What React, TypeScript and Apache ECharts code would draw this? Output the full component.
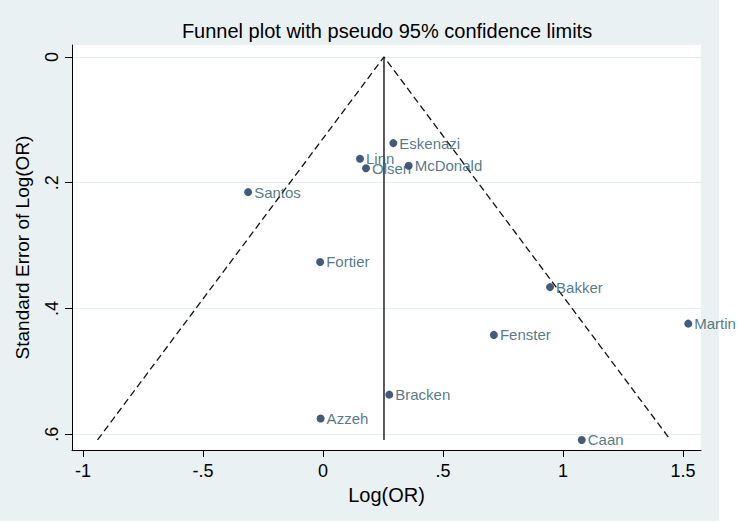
import React, { useEffect, useRef } from "react";
import * as echarts from "echarts";

// ---- Data ----
const studyNames = ["Eskenazi", "Linn", "Olsen", "McDonald", "Santos", "Fortier", "Bakker", "Martin", "Fenster", "Bracken", "Azzeh", "Caan"];
const logOR = [0.293, 0.154, 0.179, 0.357, -0.312, -0.012, 0.946, 1.522, 0.712, 0.276, -0.01, 1.078];
const seLogOR = [0.137, 0.162, 0.177, 0.173, 0.215, 0.326, 0.366, 0.424, 0.442, 0.537, 0.575, 0.609];
const pooledLogOR = 0.254;
const maxSE = 0.609;
const z95 = 1.96;

const xTickValues = [-1, -0.5, 0, 0.5, 1, 1.5];
const xTickLabels = ["-1", "-.5", "0", ".5", "1", "1.5"];
const yTickValues = [0, 0.2, 0.4, 0.6];
const yTickLabels = ["0", ".2", ".4", ".6"];

const titleText = "Funnel plot with pseudo 95% confidence limits";
const xTitle = "Log(OR)";
const yTitle = "Standard Error of Log(OR)";

const FONT = '"Liberation Sans", Arial, Helvetica, sans-serif';

function lookup(values: number[], labels: string[], v: number) {
  let best = 0;
  for (let i = 0; i < values.length; i++) {
    if (Math.abs(values[i] - v) < Math.abs(values[best] - v)) best = i;
  }
  return Math.abs(values[best] - v) < 1e-6 ? labels[best] : "";
}

export default function App() {
  const ref = useRef<HTMLDivElement>(null);
  useEffect(() => {
    document.body.style.margin = "0";
    if (!ref.current) return;
    const chart = echarts.init(ref.current, undefined, { renderer: "svg" });
    const points = studyNames.map((n, i) => ({ name: n, value: [logOR[i], seLogOR[i]] }));
    const funnel = [
      [pooledLogOR - z95 * maxSE, maxSE],
      [pooledLogOR, 0],
      [pooledLogOR + z95 * maxSE, maxSE],
    ];
    const vline = [
      [pooledLogOR, 0],
      [pooledLogOR, maxSE],
    ];
    chart.setOption({
      animation: false,
      backgroundColor: "#ffffff",
      graphic: [
        {
          type: "rect",
          z: -100,
          silent: true,
          shape: { x: 0, y: 0, width: 719, height: 521 },
          style: { fill: "#eaf1f3" },
        },
        {
          type: "text",
          x: 387,
          y: 31,
          style: {
            text: titleText,
            fill: "#000",
            font: `20px ${FONT}`,
            align: "center",
            verticalAlign: "middle",
          },
        },
      ],
      grid: {
        left: 72,
        right: 37,
        top: 45,
        bottom: 73,
        show: true,
        backgroundColor: "#ffffff",
        borderWidth: 0,
      },
      xAxis: {
        type: "value",
        min: -1.046,
        max: 1.575,
        name: xTitle,
        nameLocation: "middle",
        nameGap: 27,
        nameTextStyle: { fontFamily: FONT, fontSize: 20, color: "#000" },
        axisLine: { show: true, onZero: false, lineStyle: { color: "#000", width: 1 } },
        axisTick: { show: true, length: 7, customValues: xTickValues, lineStyle: { color: "#000" } },
        axisLabel: {
          customValues: xTickValues,
          margin: 12,
          fontFamily: FONT,
          fontSize: 18,
          color: "#000",
          formatter: (v: number) => lookup(xTickValues, xTickLabels, v),
        },
        splitLine: { show: false },
      },
      yAxis: {
        type: "value",
        inverse: true,
        min: -0.019,
        max: 0.625,
        name: yTitle,
        nameLocation: "middle",
        nameGap: 40,
        nameTextStyle: { fontFamily: FONT, fontSize: 19, color: "#000" },
        axisLine: { show: true, onZero: false, lineStyle: { color: "#000", width: 1 } },
        axisTick: { show: true, length: 7, customValues: yTickValues, lineStyle: { color: "#000" } },
        axisLabel: {
          customValues: yTickValues,
          rotate: 90,
          margin: 11,
          fontFamily: FONT,
          fontSize: 18,
          color: "#000",
          formatter: (v: number) => lookup(yTickValues, yTickLabels, v),
        },
        splitLine: { show: false },
      },
      series: [
        {
          type: "line",
          data: vline,
          symbol: "none",
          silent: true,
          lineStyle: { color: "#333", width: 1.6 },
          markLine: {
            silent: true,
            symbol: "none",
            label: { show: false },
            lineStyle: { color: "#e4edf0", width: 1, type: "solid" },
            data: yTickValues.map((v) => ({ yAxis: v })),
            z: 0,
          },
          z: 3,
        },
        {
          type: "line",
          data: funnel,
          symbol: "none",
          silent: true,
          lineStyle: { color: "#111", width: 1.3, type: [7, 4] },
          z: 3,
        },
        {
          type: "scatter",
          data: points,
          symbol: "circle",
          symbolSize: 8,
          itemStyle: { color: "#14315a" },
          label: {
            show: true,
            position: "right",
            distance: 2,
            formatter: "{b}",
            fontFamily: FONT,
            fontSize: 15,
            color: "#275868",
          },
          z: 4,
        },
      ],
    });
    return () => chart.dispose();
  }, []);
  return (
    <div
      ref={ref}
      style={{ width: 738, height: 523, position: "absolute", left: 0, top: 0 }}
    />
  );
}
